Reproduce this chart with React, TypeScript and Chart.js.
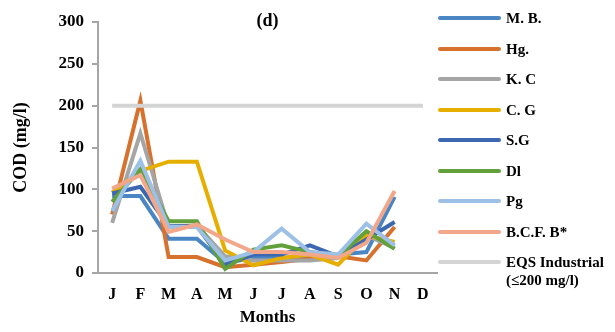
import React, { useEffect, useRef } from "react";
import { Chart, registerables } from "chart.js";

Chart.register(...registerables);

const months = ["J", "F", "M", "A", "M", "J", "J", "A", "S", "O", "N", "D"];
const seriesNames = ["M. B.", "Hg.", "K. C", "C. G", "S.G", "Dl", "Pg", "B.C.F. B*"];
const mb = [92, 92, 41, 41, 12, 18, 18, 20, 22, 25, 91, null];
const hg = [70, 206, 19, 19, 7, 10, 13, 17, 20, 15, 55, null];
const kc = [60, 167, 55, 57, 20, 15, 15, 15, 18, 45, 30, null];
const cg = [96, 122, 133, 133, 27, 9, 18, 22, 10, 45, 37, null];
const sg = [95, 103, 56, 56, 10, 22, 22, 33, 20, 40, 61, null];
const dl = [85, 124, 62, 62, 5, 28, 33, 25, 20, 50, 29, null];
const pg = [74, 134, 55, 55, 15, 25, 53, 25, 22, 59, 33, null];
const bcfb = [101, 117, 49, 58, 40, 25, 25, 22, 18, 36, 98, null];
const eqs = [200, 200, 200, 200, 200, 200, 200, 200, 200, 200, 200, 200];
const eqsLabel = ["EQS Industrial", "(≤200 mg/l)"];
const yTicks = [0, 50, 100, 150, 200, 250, 300];

const colors = ["#4A86C4", "#D6712E", "#A5A5A5", "#E6AF00", "#3C67B1", "#62A03C", "#9DC0E6", "#F3A78A", "#D4D4D4"];
const FONT = "'Liberation Serif', 'Times New Roman', serif";

export default function App() {
  const ref = useRef<HTMLCanvasElement>(null);
  useEffect(() => {
    const seriesData = [mb, hg, kc, cg, sg, dl, pg, bcfb, eqs];
    const names = [...seriesNames, eqsLabel.join(" ")];
    const chart = new Chart(ref.current!, {
      type: "line",
      data: {
        labels: months,
        datasets: seriesData.map((d, i) => ({
          label: names[i],
          data: d,
          borderColor: colors[i],
          backgroundColor: colors[i],
          borderWidth: 4,
          pointRadius: 0,
          tension: 0,
          fill: false,
          order: seriesData.length - i,
        })),
      },
      options: {
        animation: false,
        responsive: false,
        layout: { padding: { top: 14, right: 170, left: 0, bottom: 0 } },
        plugins: { legend: { display: false }, title: { display: false }, tooltip: { enabled: false } },
        scales: {
          x: {
            offset: true,
            grid: { display: false, drawTicks: false },
            border: { display: true, color: "#A6A6A6", width: 2 },
            ticks: { color: "#000", font: { family: FONT, size: 16, weight: "bold" }, padding: 12 },
            title: { display: true, text: "Months", color: "#000", font: { family: FONT, size: 17, weight: "bold" }, padding: { top: 0, bottom: -4 } },
            afterFit: (s: any) => { s.height = 51; s.paddingLeft = 0; s.paddingRight = 0; },
          },
          y: {
            min: 0,
            max: 300,
            afterBuildTicks: (s: any) => { s.ticks = yTicks.map((v) => ({ value: v })); },
            grid: { drawOnChartArea: false, drawTicks: true, tickLength: 6, color: "#A6A6A6", lineWidth: 2 },
            border: { display: true, color: "#A6A6A6", width: 2 },
            ticks: { color: "#000", font: { family: FONT, size: 17, weight: "bold" }, padding: 8 },
            title: { display: true, text: "COD (mg/l)", color: "#000", font: { family: FONT, size: 18, weight: "bold" }, padding: 3 },
            afterFit: (s: any) => { s.width = 90; s.paddingTop = 0; s.paddingBottom = 0; },
          },
        },
      },
    });
    return () => chart.destroy();
  }, []);

  const legendNames = [...seriesNames, eqsLabel[0]];
  return (
    <div style={{ position: "relative", width: 599, height: 316, fontFamily: FONT }}>
      <canvas ref={ref} width={599} height={316} style={{ display: "block" }} />
      <div style={{ position: "absolute", left: 90, width: 339, top: 1, textAlign: "center", fontWeight: "bold", fontSize: 18, lineHeight: "22px" }}>(d)</div>
      {legendNames.map((n, i) => (
        <div key={i} style={{ position: "absolute", left: 430, top: 10 + i * 30.5 - 10, height: 20, display: "flex", alignItems: "center" }}>
          <div style={{ width: 63, height: 4, borderRadius: 2, background: colors[i] }} />
          <div style={{ marginLeft: 5, fontWeight: "bold", fontSize: 15, lineHeight: "20px", whiteSpace: "nowrap" }}>{n}</div>
        </div>
      ))}
      <div style={{ position: "absolute", left: 498, top: 254 + 18 - 10, fontWeight: "bold", fontSize: 15, lineHeight: "20px", whiteSpace: "nowrap" }}>{eqsLabel[1]}</div>
    </div>
  );
}
